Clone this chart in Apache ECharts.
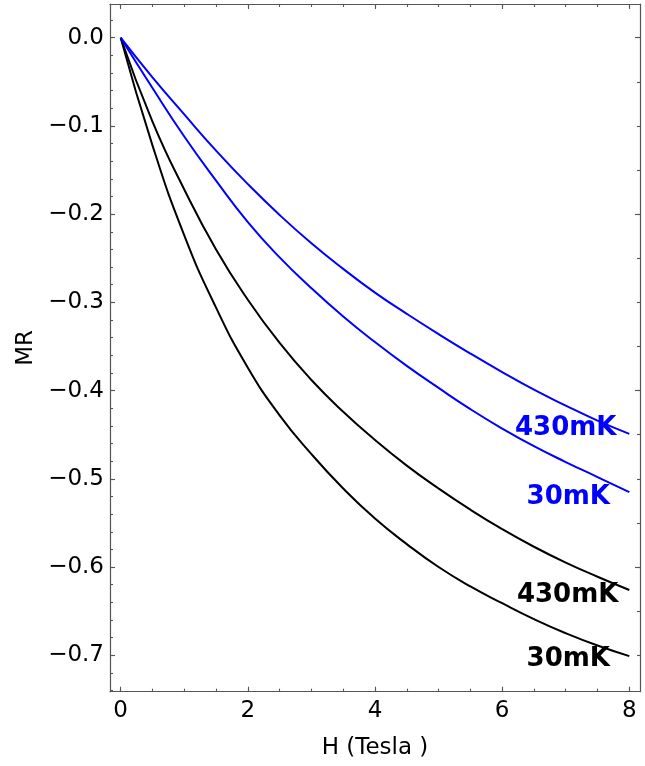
<!DOCTYPE html>
<html>
<head>
<meta charset="utf-8">
<script src="https://cdn.jsdelivr.net/npm/echarts@6/dist/echarts.min.js"></script>
<style>
html,body{margin:0;padding:0;background:#fff;}
#chart{width:645px;height:766px;}
</style>
</head>
<body>
<div id="chart"></div>
<script>
// Magnetic field (Tesla)
var fieldH = [0, 0.5, 1, 1.5, 2, 2.5, 3, 3.5, 4, 4.5, 5, 5.5, 6, 6.5, 7, 7.5, 8];
// MR curves
var black30mK  = [0, -0.122, -0.224, -0.306, -0.374, -0.428, -0.472, -0.511, -0.545, -0.574, -0.600, -0.622, -0.641, -0.659, -0.675, -0.689, -0.701];
var black430mK = [0, -0.095, -0.172, -0.240, -0.297, -0.346, -0.388, -0.424, -0.456, -0.485, -0.511, -0.535, -0.557, -0.577, -0.595, -0.611, -0.626];
var blue30mK   = [0, -0.057, -0.112, -0.162, -0.209, -0.249, -0.284, -0.316, -0.345, -0.372, -0.397, -0.421, -0.443, -0.463, -0.481, -0.498, -0.515];
var blue430mK  = [0, -0.045, -0.087, -0.128, -0.166, -0.201, -0.233, -0.262, -0.289, -0.313, -0.336, -0.358, -0.379, -0.399, -0.417, -0.434, -0.449];

// Curve annotations
var labelText  = ['430mK', '30mK', '430mK', '30mK'];
var labelH     = [7.0, 7.04, 7.03, 7.04];
var labelMR    = [-0.443, -0.521, -0.632, -0.704];
var labelColor = ['#0000ff', '#0000ff', '#000000', '#000000'];

// Axes
var xMin = -0.168, xMax = 8.168;
var yMin = -0.7413, yMax = 0.0382;
var xMajorTicks = [0, 2, 4, 6, 8];
var yMajorTicks = [0, -0.1, -0.2, -0.3, -0.4, -0.5, -0.6, -0.7];
var yRightMajorTicks = [0, -0.2, -0.4, -0.6];

function range(start, end, step) {
  var out = [];
  var n = Math.round((end - start) / step);
  for (var i = 0; i <= n; i++) out.push(Math.round((start + i * step) * 1000) / 1000);
  return out;
}
var xMinorTicks = range(0, 8, 0.5);
var yMinorTicks = range(-0.74, 0.02, 0.02);
var yRightMinorTicks = range(-0.70, 0.0, 0.05);

function pairs(xs, ys) { return xs.map(function (x, i) { return [x, ys[i]]; }); }
function fmtY(v) { return (Math.round(v * 10) / 10).toFixed(1).replace('-', '\u2212'); }

var FONT = 'DejaVu Sans';
var AXC = '#555';

function xAx(pos, ticks, len, showLine, labels) {
  return {
    type: 'value', position: pos, min: xMin, max: xMax,
    splitLine: {show: false},
    axisLine: {show: showLine, onZero: false, lineStyle: {color: AXC, width: 1.2}},
    axisTick: {show: true, inside: true, length: len, customValues: ticks, lineStyle: {color: AXC, width: 1.1}},
    axisLabel: labels ? {show: true, customValues: ticks, margin: 8, fontSize: 23, fontFamily: FONT, color: '#000', formatter: function (v) { return String(v); }} : {show: false}
  };
}
function yAx(pos, ticks, len, showLine, labels) {
  return {
    type: 'value', position: pos, min: yMin, max: yMax,
    splitLine: {show: false},
    axisLine: {show: showLine, onZero: false, lineStyle: {color: AXC, width: 1.2}},
    axisTick: {show: true, inside: true, length: len, customValues: ticks, lineStyle: {color: AXC, width: 1.1}},
    axisLabel: labels ? {show: true, customValues: ticks, margin: 6, fontSize: 23, fontFamily: FONT, color: '#000', formatter: fmtY} : {show: false}
  };
}

var xAxes = [
  xAx('bottom', xMajorTicks, 5, true, true),
  xAx('bottom', xMinorTicks, 3, false, false),
  xAx('top', xMajorTicks, 5, true, false),
  xAx('top', xMinorTicks, 3, false, false)
];
xAxes[0].name = 'H (Tesla )';
xAxes[0].nameLocation = 'middle';
xAxes[0].nameGap = 45;
xAxes[0].nameTextStyle = {fontSize: 23, fontFamily: FONT, color: '#000'};

var yAxes = [
  yAx('left', yMajorTicks, 5, true, true),
  yAx('left', yMinorTicks, 3, false, false),
  yAx('right', yRightMajorTicks, 5, true, false),
  yAx('right', yRightMinorTicks, 3, false, false)
];
yAxes[0].name = 'MR';
yAxes[0].nameLocation = 'middle';
yAxes[0].nameGap = 72;
yAxes[0].nameTextStyle = {fontSize: 23, fontFamily: FONT, color: '#000'};

function lineSeries(name, ys, color) {
  return {
    name: name, type: 'line', xAxisIndex: 0, yAxisIndex: 0,
    data: pairs(fieldH, ys), symbol: 'none', smooth: 0.5,
    lineStyle: {color: color, width: 2}, silent: true
  };
}

var labelData = labelText.map(function (t, i) {
  return {value: [labelH[i], labelMR[i]], name: t, label: {color: labelColor[i]}};
});

var option = {
  animation: false,
  backgroundColor: '#fff',
  grid: {left: 110, right: 5, top: 4, bottom: 74.3, containLabel: false},
  xAxis: xAxes,
  yAxis: yAxes,
  series: [
    lineSeries('black 30mK', black30mK, '#000000'),
    lineSeries('black 430mK', black430mK, '#000000'),
    lineSeries('blue 30mK', blue30mK, '#0000ff'),
    lineSeries('blue 430mK', blue430mK, '#0000ff'),
    {
      type: 'scatter', xAxisIndex: 0, yAxisIndex: 0, symbolSize: 0, z: 5, silent: true,
      itemStyle: {opacity: 1},
      data: labelData,
      label: {show: true, position: 'inside', opacity: 1, formatter: function (p) { return p.name; },
              fontSize: 26, fontWeight: 'bold', fontFamily: FONT}
    }
  ]
};

var chart = echarts.init(document.getElementById('chart'), null, {renderer: 'canvas'});
chart.setOption(option);
</script>
</body>
</html>
